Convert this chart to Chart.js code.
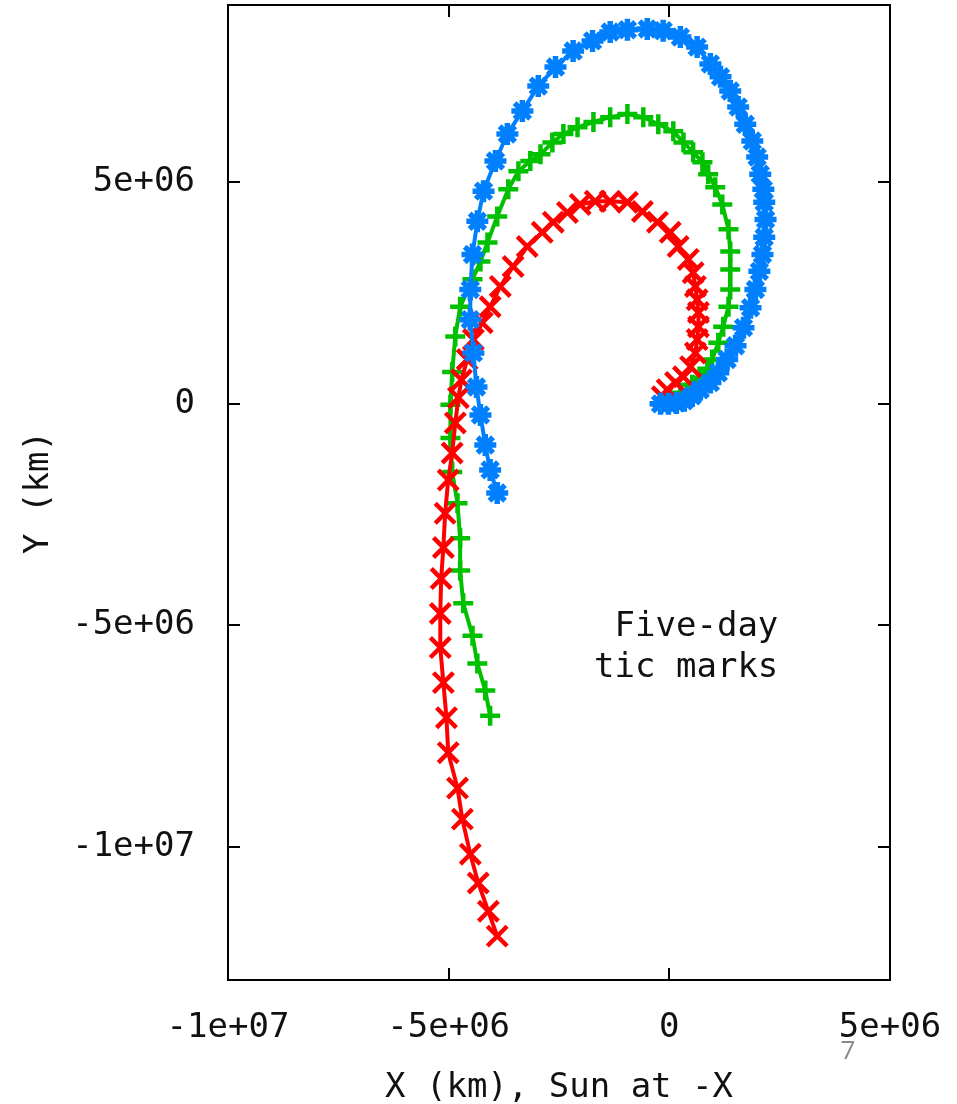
<!DOCTYPE html>
<html>
<head>
<meta charset="utf-8">
<title>Trajectories - five-day tic marks</title>
<script src="https://cdn.jsdelivr.net/npm/chart.js@4/dist/chart.umd.min.js"></script>
<style>
    html, body { margin: 0; padding: 0; background: #fff; }
    #wrap { width: 957px; height: 1104px; position: relative; }
</style>
</head>
<body>
<div id="wrap"><canvas id="orbit-chart"></canvas></div>
<script>
// values in millions of km (1e6 km)
const MKM = 1e6;

const redX = [-0.16, -0.05, 0.14, 0.32, 0.48, 0.59, 0.63, 0.66, 0.66, 0.63, 0.59, 0.54, 0.43, 0.20, 0.02, -0.27, -0.61, -0.95, -1.34, -1.68, -2.02, -2.31, -2.63, -2.88, -3.22, -3.54, -3.83, -4.06, -4.24, -4.44, -4.58, -4.71, -4.78, -4.85, -4.92, -5.01, -5.08, -5.12, -5.17, -5.19, -5.19, -5.12, -5.05, -5.01, -4.80, -4.69, -4.51, -4.33, -4.10, -3.90];
const redY = [0.16, 0.32, 0.48, 0.61, 0.84, 1.15, 1.45, 1.74, 2.06, 2.35, 2.65, 2.96, 3.26, 3.55, 3.87, 4.10, 4.34, 4.55, 4.57, 4.57, 4.50, 4.32, 4.10, 3.87, 3.55, 3.10, 2.65, 2.19, 1.83, 1.45, 1.00, 0.54, 0.14, -0.43, -1.11, -1.72, -2.47, -3.24, -3.94, -4.73, -5.50, -6.29, -7.08, -7.87, -8.67, -9.37, -10.16, -10.81, -11.45, -12.01];

const greenX = [-0.02, 0.25, 0.52, 0.70, 0.86, 0.97, 1.11, 1.22, 1.34, 1.38, 1.38, 1.38, 1.34, 1.20, 1.04, 0.88, 0.75, 0.54, 0.32, 0.09, -0.25, -0.59, -0.95, -1.34, -1.72, -2.08, -2.40, -2.65, -2.92, -3.15, -3.42, -3.65, -3.90, -4.12, -4.28, -4.46, -4.74, -4.85, -4.92, -4.96, -4.96, -4.92, -4.80, -4.74, -4.74, -4.67, -4.46, -4.35, -4.17, -4.06];
const greenY = [0.09, 0.25, 0.43, 0.59, 0.79, 1.00, 1.38, 1.74, 2.19, 2.58, 3.03, 3.44, 3.94, 4.50, 4.89, 5.18, 5.45, 5.68, 5.90, 6.15, 6.31, 6.47, 6.54, 6.47, 6.36, 6.24, 6.09, 5.90, 5.63, 5.48, 5.25, 4.84, 4.23, 3.64, 3.21, 2.81, 2.19, 1.52, 0.72, -0.02, -0.77, -1.54, -2.24, -3.03, -3.76, -4.50, -5.23, -5.86, -6.47, -7.04];

const blueX = [-0.20, -0.02, 0.16, 0.34, 0.52, 0.70, 0.93, 1.11, 1.31, 1.50, 1.68, 1.84, 1.95, 2.04, 2.11, 2.15, 2.18, 2.15, 2.13, 2.06, 1.99, 1.88, 1.72, 1.56, 1.38, 1.16, 0.93, 0.63, 0.25, -0.14, -0.50, -0.95, -1.34, -1.74, -2.18, -2.58, -2.97, -3.33, -3.67, -3.94, -4.21, -4.35, -4.46, -4.51, -4.51, -4.44, -4.37, -4.28, -4.17, -4.06, -3.90];
const blueY = [0.00, 0.00, 0.02, 0.07, 0.18, 0.32, 0.48, 0.70, 1.00, 1.31, 1.72, 2.17, 2.58, 2.99, 3.37, 3.76, 4.16, 4.55, 4.84, 5.18, 5.57, 5.93, 6.31, 6.70, 7.06, 7.38, 7.67, 8.05, 8.28, 8.42, 8.46, 8.44, 8.39, 8.19, 7.96, 7.60, 7.17, 6.61, 6.09, 5.48, 4.80, 4.12, 3.37, 2.58, 1.90, 1.15, 0.38, -0.25, -0.93, -1.49, -2.01];

const xTicks = [-1e7, -5e6, 0, 5e6];
const xTickLabels = ['-1e+07', '-5e+06', '0', '5e+06'];
const yTicks = [5e6, 0, -5e6, -1e7];
const yTickLabels = ['5e+06', '0', '-5e+06', '-1e+07'];

const noteLines = ['Five-day', 'tic marks'];
const noteX = 2.47;            // right edge of note, 1e6 km
const noteY = [-5.05, -5.97];  // line centres, 1e6 km

const MONO = "'DejaVu Sans Mono', 'Liberation Mono', monospace";
const TEXT = '#111';

const toPoints = (xs, ys) => xs.map((x, i) => ({ x: x * MKM, y: ys[i] * MKM }));

const series = (label, color, style, radius, markWidth, xs, ys, order) => ({
    label,
    data: toPoints(xs, ys),
    showLine: true,
    borderColor: color,
    backgroundColor: color,
    borderWidth: 4,
    tension: 0,
    pointStyle: style,
    pointRadius: radius,
    pointBorderWidth: markWidth,
    pointBorderColor: color,
    pointBackgroundColor: color,
    order
});

// box around the plot with inward tics on all four sides, plus note text
const framePlugin = {
    id: 'frame',
    afterDraw(chart) {
        const { ctx, chartArea: a, scales } = chart;
        const tic = 12;
        ctx.save();
        ctx.strokeStyle = '#000';
        ctx.lineWidth = 2;
        ctx.strokeRect(a.left, a.top, a.right - a.left, a.bottom - a.top);
        ctx.beginPath();
        xTicks.forEach(v => {
            const px = Math.round(scales.x.getPixelForValue(v));
            if (px <= a.left + 1 || px >= a.right - 1) return;
            ctx.moveTo(px, a.bottom); ctx.lineTo(px, a.bottom - tic);
            ctx.moveTo(px, a.top); ctx.lineTo(px, a.top + tic);
        });
        yTicks.forEach(v => {
            const py = Math.round(scales.y.getPixelForValue(v));
            ctx.moveTo(a.left, py); ctx.lineTo(a.left + tic, py);
            ctx.moveTo(a.right, py); ctx.lineTo(a.right - tic, py);
        });
        ctx.stroke();

        ctx.fillStyle = TEXT;
        ctx.font = `34px ${MONO}`;
        ctx.textAlign = 'right';
        ctx.textBaseline = 'middle';
        noteLines.forEach((t, i) => {
            ctx.fillText(t, scales.x.getPixelForValue(noteX * MKM), scales.y.getPixelForValue(noteY[i] * MKM));
        });

        // slide page number
        ctx.fillStyle = '#8a8a8a';
        ctx.font = "26px 'Open Sans', sans-serif";
        ctx.textAlign = 'center';
        ctx.fillText('7', 848, 1052);
        ctx.restore();
    }
};

new Chart(document.getElementById('orbit-chart'), {
    type: 'scatter',
    data: {
        datasets: [
            series('red', '#ff0000', 'crossRot', 14, 4.5, redX, redY, 1),
            series('green', '#00c000', 'cross', 10, 4.5, greenX, greenY, 2),
            series('blue', '#0080ff', 'star', 11, 5.5, blueX, blueY, 0)
        ]
    },
    options: {
        responsive: true,
        maintainAspectRatio: false,
        animation: false,
        devicePixelRatio: 1,
        layout: {
            autoPadding: false,
            padding: { left: 0, top: 5, right: 67, bottom: 0 }
        },
        plugins: {
            legend: { display: false },
            tooltip: { enabled: false }
        },
        scales: {
            x: {
                type: 'linear',
                position: 'bottom',
                min: -1e7,
                max: 5e6,
                afterBuildTicks: s => { s.ticks = xTicks.map(v => ({ value: v })); },
                afterFit: s => {
                    s.height = 124;
                    s.paddingLeft = 0;
                    s.paddingRight = 0;
                },
                grid: { display: false },
                border: { display: false },
                ticks: {
                    autoSkip: false,
                    maxRotation: 0,
                    padding: 20,
                    color: TEXT,
                    font: { family: MONO, size: 34 },
                    callback: v => xTickLabels[xTicks.indexOf(v)]
                },
                title: {
                    display: true,
                    text: 'X (km), Sun at -X',
                    color: TEXT,
                    font: { family: MONO, size: 34 },
                    padding: { top: 0, bottom: -5 }
                }
            },
            y: {
                type: 'linear',
                min: -1.3e7,
                max: 9e6,
                afterBuildTicks: s => { s.ticks = yTicks.map(v => ({ value: v })); },
                afterFit: s => {
                    s.width = 228;
                    s.paddingTop = 0;
                    s.paddingBottom = 0;
                },
                grid: { display: false },
                border: { display: false },
                ticks: {
                    autoSkip: false,
                    padding: 25,
                    color: TEXT,
                    font: { family: MONO, size: 34 },
                    callback: v => yTickLabels[yTicks.indexOf(v)]
                },
                title: {
                    display: true,
                    text: 'Y (km)',
                    color: TEXT,
                    font: { family: MONO, size: 34 },
                    padding: { top: 19, bottom: 0 }
                }
            }
        }
    },
    plugins: [framePlugin]
});
</script>
</body>
</html>
